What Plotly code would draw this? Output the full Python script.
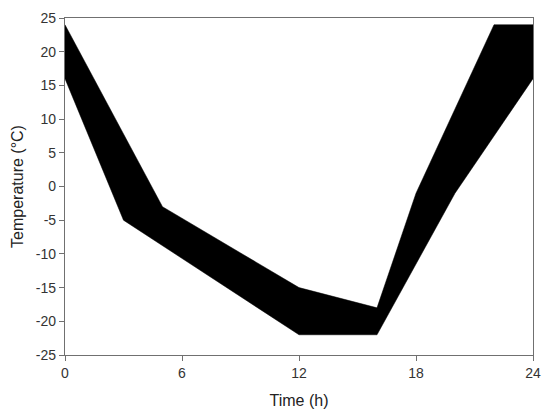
import plotly.graph_objects as go

upper_x = [0, 5, 12, 16, 18, 22, 24]
upper_y = [24, -3, -15, -18, -1, 24, 24]
lower_x = [0, 3, 12, 16, 20, 24]
lower_y = [16, -5, -22, -22, -1, 16]

x_ticks = [0, 6, 12, 18, 24]
y_ticks = [-25, -20, -15, -10, -5, 0, 5, 10, 15, 20, 25]
y_ticklabels = ["-25", "-20", "-15", "-10", "-5", "0", "5", "10", "15", "20", "25"]

poly_x = upper_x + lower_x[::-1]
poly_y = upper_y + lower_y[::-1]

fig = go.Figure()
fig.add_trace(go.Scatter(x=poly_x, y=poly_y, fill="toself", mode="lines",
                         line=dict(color="black", width=0.5), fillcolor="black",
                         showlegend=False, hoverinfo="skip"))

font_family = "Liberation Sans, Arial"
axis_common = dict(showgrid=False, zeroline=False, showline=True, linecolor="#707070",
                   linewidth=1.2, mirror=True, ticks="outside", ticklen=5,
                   tickcolor="#707070", tickfont=dict(family=font_family, size=14, color="#333"))
fig.update_xaxes(range=[0, 24], tickvals=x_ticks, **axis_common,
                 title=dict(text="Time (h)", font=dict(family=font_family, size=16, color="#222"), standoff=14))
fig.update_yaxes(range=[-25, 25], tickvals=y_ticks, ticktext=y_ticklabels, **axis_common,
                 title=dict(text="Temperature (°C)", font=dict(family=font_family, size=16, color="#222"), standoff=8))

fig.update_layout(width=550, height=417, margin=dict(l=57, r=25, t=10, b=70, autoexpand=False),
                  plot_bgcolor="white", paper_bgcolor="white")
fig.write_html("out.html")
